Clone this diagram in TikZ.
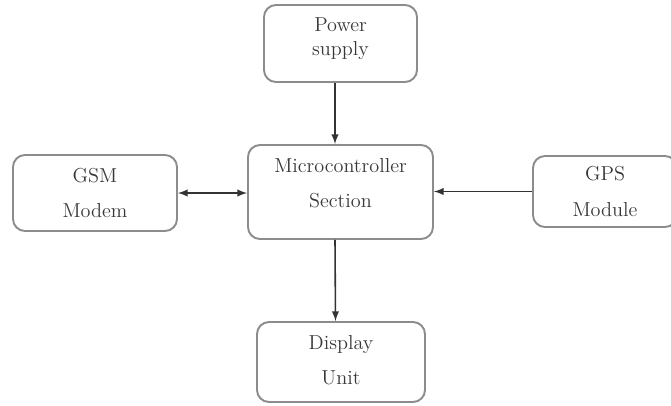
\documentclass[tikz,border=0pt]{standalone}
\usetikzlibrary{arrows,calc}
\definecolor{BoxClr}{rgb}{0.55,0.55,0.55}
\definecolor{TxtClr}{rgb}{0.22,0.22,0.22}

\begin{document}
\begin{tikzpicture}[
  blockbox/.style={draw=BoxClr,line width=1.1pt,rounded corners=0.24cm,
    align=center,text=TxtClr,font=\fontsize{11.5}{14}\selectfont,inner sep=0pt},
  link/.style={line width=0.9pt,color=black!80,-latex}]
\useasboundingbox (0,0) rectangle (13.42,-8.10);

\node[blockbox,minimum width=3.06cm,minimum height=1.54cm,text depth=0.28cm] (power) at (6.81,-0.87) {Power\\supply};
\node[blockbox,minimum width=3.70cm,minimum height=1.88cm,text depth=0.36cm] (micro) at (6.81,-3.84) {Microcontroller\\[6pt]Section};
\node[blockbox,minimum width=3.28cm,minimum height=1.52cm] (gsm) at (1.90,-3.86) {GSM\\[6pt]Modem};
\node[blockbox,minimum width=2.88cm,minimum height=1.42cm] (gps) at (12.10,-3.83) {GPS\\[6pt]Module};
\node[blockbox,minimum width=3.36cm,minimum height=1.60cm,text depth=0.08cm] (display) at (6.82,-7.24) {Display\\[6pt]Unit};

\draw[link] ([xshift=-0.11cm]power.south) -- ([xshift=-0.11cm]micro.north);
\draw[link] ([xshift=-0.11cm]micro.south) -- ([xshift=-0.11cm]display.north);
\draw[link,latex-latex] (gsm.east) -- (gsm.east -| micro.west);
\draw[link] (gps.west) -- (gps.west -| micro.east);

\end{tikzpicture}
\end{document}
